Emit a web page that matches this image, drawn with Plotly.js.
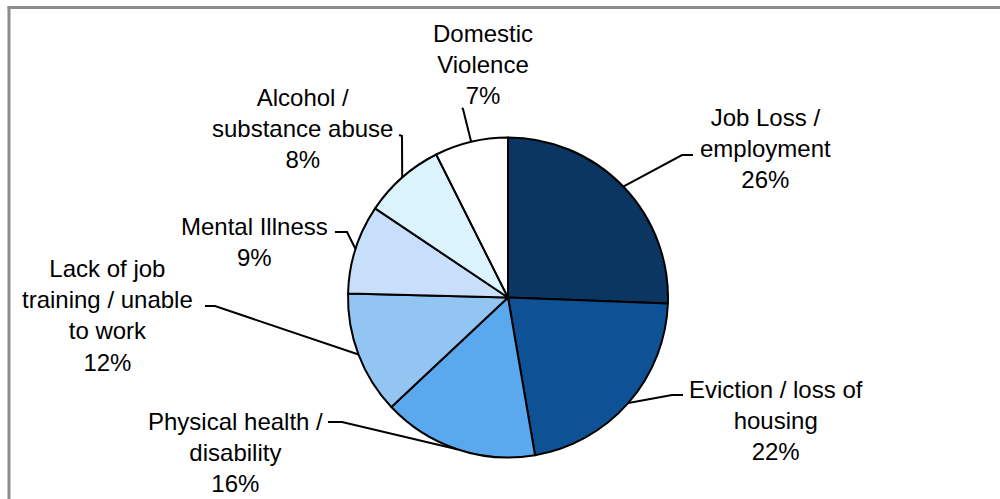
<!DOCTYPE html>
<html>
<head>
<meta charset="utf-8">
<script src="https://cdn.plot.ly/plotly-3.0.1.min.js"></script>
<style>
  html, body { margin: 0; padding: 0; background: #ffffff; }
  #chart { width: 1000px; height: 499px; }
</style>
</head>
<body>
<div id="chart"></div>
<script>
// ---- data ----
const categories = [
  'Job Loss /<br>employment',
  'Eviction / loss of<br>housing',
  'Physical health /<br>disability',
  'Lack of job<br>training / unable<br>to work',
  'Mental Illness',
  'Alcohol /<br>substance abuse',
  'Domestic<br>Violence'
];
const shares = [25.6, 21.7, 15.7, 12.4, 9.0, 8.2, 7.4];
const sliceColors = ['#0b3661', '#0f5195', '#5aa8ee', '#93c5f3', '#c7dffa', '#daf3fc', '#ffffff'];

// ---- layout (pixel positions of label blocks and leader elbows) ----
const W = 1000, H = 499;
const pieCx = 508, pieCy = 297.5, pieR = 160;
const labelPos = [[765, 149], [776, 420], [235, 452], [107, 315], [254, 242], [302, 128], [483, 64]];
const leaderStart = [[693, 155], [683, 395], [328, 422], [205, 306], [335, 232], [399, 135], [462, 108]];
const leaderElbow = [[682, 155], [672, 395], [342, 422], [215, 306], [347, 232], [402, 136], [463, 109]];

const px = x => x / W;
const py = y => 1 - y / H;

const total = shares.reduce((a, b) => a + b, 0);
let cum = 0;
const arcPts = shares.map(v => {
  const frac = (cum + v / 2) / total;
  cum += v;
  const th = frac * 2 * Math.PI;
  return [pieCx + pieR * Math.sin(th), pieCy - pieR * Math.cos(th)];
});

const font = { family: 'Liberation Sans, Arial, sans-serif', size: 24, color: '#000000' };

const annotations = categories.map((c, i) => ({
  text: c + '<br>' + Math.round(shares[i] / total * 100) + '%',
  x: px(labelPos[i][0]), y: py(labelPos[i][1]),
  xref: 'paper', yref: 'paper', xanchor: 'center', yanchor: 'middle',
  showarrow: false, font: font, align: 'center'
}));

const shapes = categories.map((c, i) => ({
  type: 'path', xref: 'paper', yref: 'paper',
  path: 'M ' + px(leaderStart[i][0]) + ' ' + py(leaderStart[i][1]) +
        ' L ' + px(leaderElbow[i][0]) + ' ' + py(leaderElbow[i][1]) +
        ' L ' + px(arcPts[i][0]) + ' ' + py(arcPts[i][1]),
  line: { color: '#000000', width: 2 }
}));

// frame
shapes.push({ type: 'line', xref: 'paper', yref: 'paper', x0: px(7.5), x1: 1.02, y0: py(7.5), y1: py(7.5), line: { color: '#8c8c8c', width: 3 } });
shapes.push({ type: 'line', xref: 'paper', yref: 'paper', x0: px(9), x1: px(9), y0: py(6), y1: -0.02, line: { color: '#8c8c8c', width: 3 } });

const trace = {
  type: 'pie',
  labels: categories,
  values: shares,
  sort: false,
  direction: 'clockwise',
  rotation: 0,
  textinfo: 'none',
  hoverinfo: 'label+percent',
  marker: { colors: sliceColors, line: { color: '#000000', width: 2 } },
  domain: { x: [px(pieCx - pieR), px(pieCx + pieR)], y: [py(pieCy + pieR), py(pieCy - pieR)] },
  showlegend: false
};

const layout = {
  width: W, height: H,
  margin: { l: 0, r: 0, t: 0, b: 0 },
  paper_bgcolor: '#ffffff',
  plot_bgcolor: '#ffffff',
  showlegend: false,
  annotations: annotations,
  shapes: shapes
};

Plotly.newPlot('chart', [trace], layout, { displayModeBar: false, staticPlot: true });
</script>
</body>
</html>
